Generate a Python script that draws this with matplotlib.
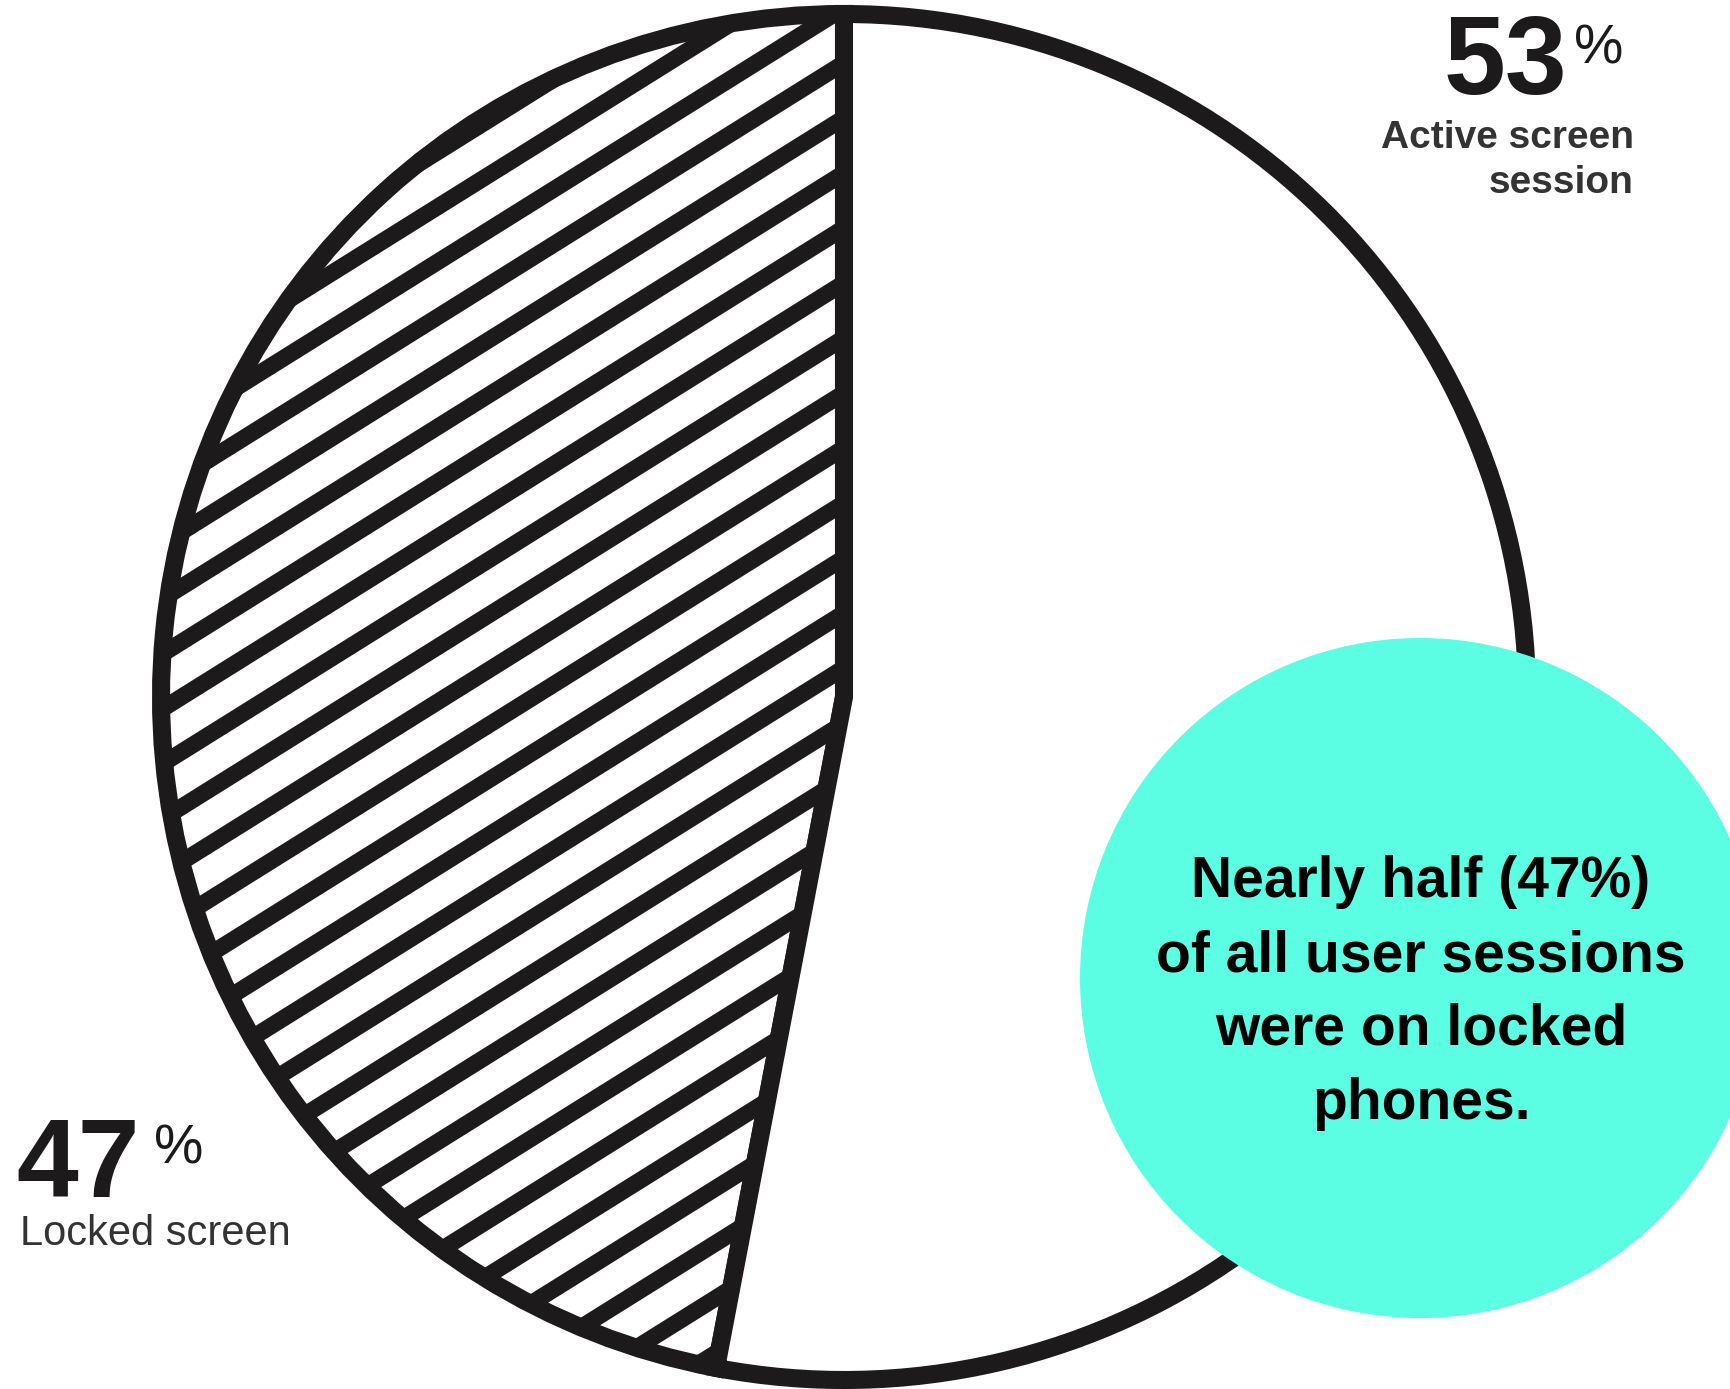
"""
Locked vs active screen sessions - hatched pie with callout bubble
"""

import numpy as np
import matplotlib.pyplot as plt
from matplotlib.patches import Circle

plt.rcParams['font.family'] = ['Liberation Sans', 'DejaVu Sans']

# data
shares = [47, 53]
share_labels = ['47', '53']
labels = ['Locked screen', 'Active screen\nsession']
callout = 'Nearly half (47%)\nof all user sessions\nwere on locked\nphones.'

INK = '#1c1a1b'
TEAL = '#5bfde3'
W, H = 1730, 1389


def y(px):
    # pixel row (from top) -> data y (from bottom)
    return H - px


fig = plt.figure(figsize=(W / 100, H / 100), dpi=100)
ax = fig.add_axes([0, 0, 1, 1])

cx, cy, r = 844, y(697), 683
wedges, _ = ax.pie(shares, startangle=90, counterclock=True, center=(cx, cy), radius=r,
                   colors=['white', 'white'], frame=True,
                   wedgeprops=dict(edgecolor=INK, linewidth=13, joinstyle='miter'))
ax.set_xlim(0, W)
ax.set_ylim(0, H)
ax.axis('off')

# diagonal stripes inside the locked-screen wedge
slope = np.tan(np.radians(32))
xs = np.array([cx - r - 50, cx + r + 50])
for k in range(-35, 45):
    y0 = y(118) - 55 * k
    line, = ax.plot(xs, slope * (xs - 844) + y0, color=INK, linewidth=12,
                    solid_capstyle='butt', zorder=2)
    line.set_clip_path(wedges[0])

# labels
ax.text(1567, y(94), share_labels[1], ha='right', va='baseline', fontsize=80,
        fontweight='bold', color=INK)
ax.text(1574, y(64), '%', ha='left', va='baseline', fontsize=40, color=INK)
act1, act2 = labels[1].split('\n')
ax.text(1634, y(148), act1, ha='right', va='baseline', fontsize=28,
        fontweight='bold', color='#333333')
ax.text(1634, y(193), act2, ha='right', va='baseline', fontsize=28,
        fontweight='bold', color='#333333')

ax.text(16, y(1197), share_labels[0], ha='left', va='baseline', fontsize=80,
        fontweight='bold', color=INK)
ax.text(154, y(1164), '%', ha='left', va='baseline', fontsize=40, color=INK)
ax.text(20, y(1245), labels[0], ha='left', va='baseline', fontsize=30,
        color='#333333')

# callout bubble
ax.add_patch(Circle((1420, y(978)), 340, facecolor=TEAL, edgecolor='none', zorder=5))
ax.text(1421, y(993), callout, ha='center', va='center', fontsize=41,
        fontweight='bold', color='black', linespacing=1.47, zorder=6)

fig.savefig('out.png', dpi=100, facecolor='white')
